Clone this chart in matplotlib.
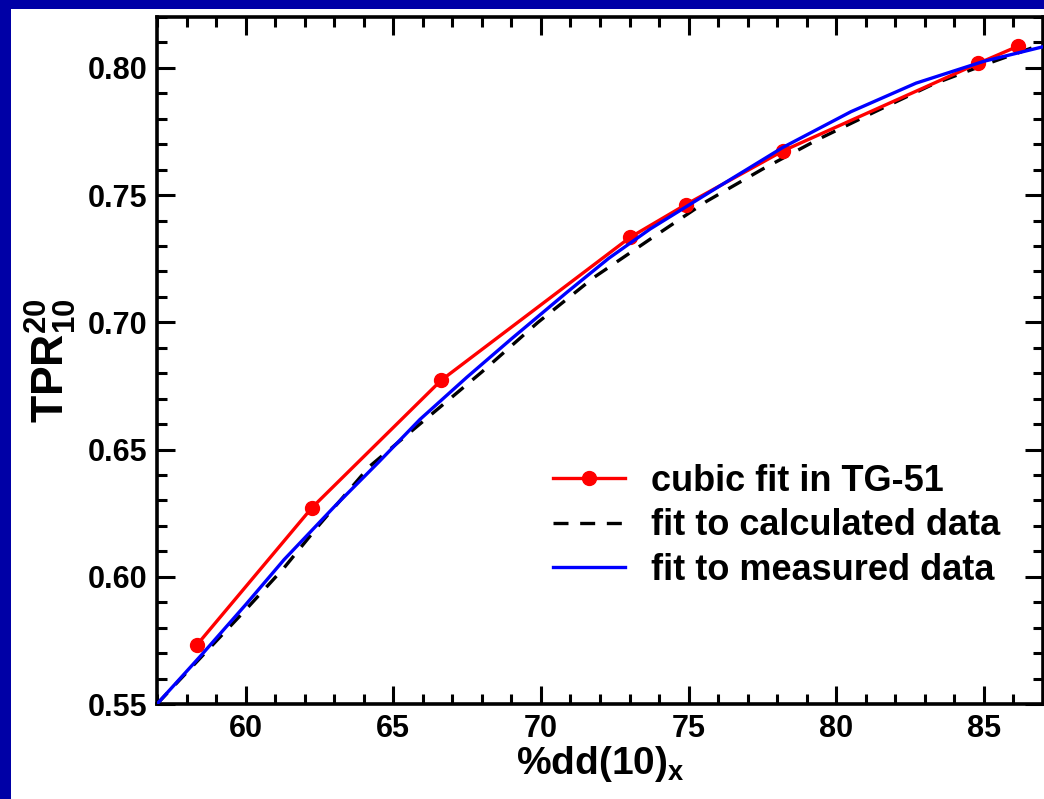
import matplotlib
matplotlib.use("Agg")
import matplotlib.pyplot as plt
from matplotlib.patches import Rectangle
from matplotlib.ticker import MultipleLocator

tg51_x = [58.35, 62.25, 66.62, 73.02, 74.91, 78.20, 84.81, 86.17]
tg51_y = [0.5732, 0.6272, 0.6772, 0.7334, 0.7463, 0.7674, 0.8018, 0.8086]

# fit to calculated data (dashed)
calc_x = [57.0, 58.5, 60.0, 61.3, 62.5, 64.2, 66.0, 68.0, 69.9, 71.8,
          73.7, 75.6, 77.5, 79.4, 81.3, 83.3, 85.2, 87.0]
calc_y = [0.550, 0.5685, 0.5870, 0.6035, 0.6205, 0.6434, 0.6610, 0.6805, 0.7000, 0.7177,
          0.7327, 0.7475, 0.7602, 0.7720, 0.7827, 0.7937, 0.8020, 0.8094]

# fit to measured data
meas_x = [57.0, 58.5, 60.0, 61.3, 63.0, 64.5, 65.9, 67.5, 69.0, 70.9,
          72.3, 73.7, 76.0, 78.2, 80.5, 82.7, 85.0, 87.0]
meas_y = [0.550, 0.5692, 0.5890, 0.6067, 0.6275, 0.6450, 0.6618, 0.6785, 0.6935, 0.7120,
          0.7252, 0.7367, 0.7532, 0.7688, 0.7828, 0.7940, 0.8026, 0.8083]

legend_labels = ["cubic fit in TG-51", "fit to calculated data", "fit to measured data"]

plt.rcParams["font.family"] = ["Liberation Sans", "DejaVu Sans"]
plt.rcParams["font.weight"] = "bold"
plt.rcParams["mathtext.fontset"] = "custom"
plt.rcParams["mathtext.bf"] = "Liberation Sans:bold"
plt.rcParams["mathtext.rm"] = "Liberation Sans:bold"
plt.rcParams["mathtext.default"] = "bf"

fig = plt.figure(figsize=(10.44, 7.99), dpi=100)
fig.patch.set_facecolor("#0000A6")
fig.patches.append(Rectangle((11 / 1044, 0), 1, 1 - 9 / 799, transform=fig.transFigure,
                             facecolor="white", edgecolor="none", zorder=-10))

ax = fig.add_axes([157 / 1044, 95 / 799, 886 / 1044, 687 / 799])
ax.set_facecolor("white")

ax.plot(tg51_x, tg51_y, color="#FF0000", lw=2.4, marker="o", markersize=10,
        label=legend_labels[0], zorder=3)
ax.plot(calc_x, calc_y, color="black", lw=2.4, linestyle=(0, (4.5, 3.5)),
        label=legend_labels[1], zorder=2)
ax.plot(meas_x, meas_y, color="#0000FF", lw=2.4, label=legend_labels[2], zorder=4)

ax.set_xlim(57, 87)
ax.set_ylim(0.55, 0.82)
ax.xaxis.set_major_locator(MultipleLocator(5))
ax.xaxis.set_minor_locator(MultipleLocator(1))
ax.yaxis.set_major_locator(MultipleLocator(0.05))
ax.yaxis.set_minor_locator(MultipleLocator(0.01))
ax.yaxis.set_major_formatter(plt.FormatStrFormatter("%.2f"))

ax.tick_params(which="both", direction="in", top=True, right=True, width=2.2,
               labelsize=22, pad=7)
ax.tick_params(which="major", length=13)
ax.tick_params(which="minor", length=7)
for s in ax.spines.values():
    s.set_linewidth(2.6)

ax.set_xlabel(r"%dd(10)$_{x}$", fontsize=28, fontweight="bold", labelpad=0)
ax.set_ylabel(r"TPR$^{20}_{10}$", fontsize=32, fontweight="bold", labelpad=6)

leg = ax.legend(loc="upper left", bbox_to_anchor=(0.447, 0.35), frameon=False,
                fontsize=26, handlelength=2.0, handletextpad=0.72, labelspacing=0.27,
                borderpad=0, borderaxespad=0)

fig.savefig("out.png", dpi=100, facecolor=fig.get_facecolor())
